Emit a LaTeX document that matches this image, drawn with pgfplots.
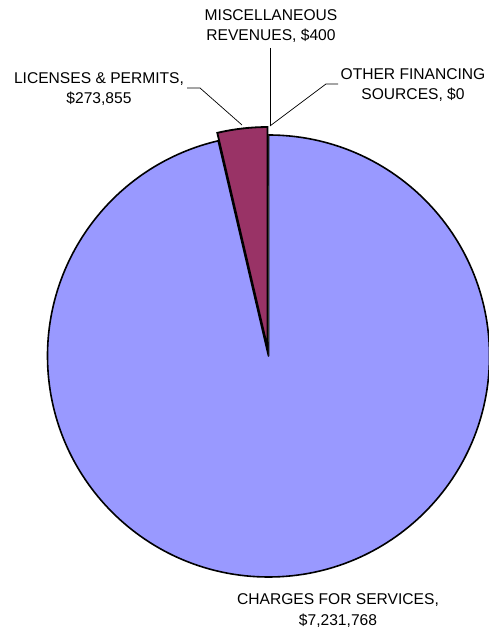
\documentclass[border=0pt]{standalone}
\usepackage{pgfplots}
\pgfplotsset{compat=1.18}
\usepackage{xfp}
\usepackage{fontspec}
\setmainfont{Liberation Sans}
\definecolor{charges}{HTML}{9999FF}
\definecolor{licenses}{HTML}{993366}
\definecolor{miscc}{HTML}{FFFFCC}
\definecolor{otherc}{HTML}{CCFFFF}
% slice values (dollars)
\def\vCharges{7231768}
\def\vLicenses{273855}
\def\vMisc{400}
\def\vOther{0}
\edef\vTotal{\fpeval{\vCharges+\vLicenses+\vMisc+\vOther}}
\edef\aOne{\fpeval{round(90-360*\vCharges/\vTotal,4)}}
\edef\aTwo{\fpeval{round(\aOne-360*\vLicenses/\vTotal,4)}}
\edef\aThree{\fpeval{round(\aTwo-360*\vMisc/\vTotal,4)}}
\edef\aMidTwo{\fpeval{round((\aOne+\aTwo)/2,4)}}
\newcommand{\lbl}{\fontsize{15.6}{20}\selectfont}
\begin{document}
\begin{tikzpicture}
\begin{axis}[name=ax, width=489pt, height=631pt, scale only axis,
  xmin=0, xmax=489, ymin=0, ymax=631, hide axis, clip=false]
% charges for services
\fill[charges, draw=black, line width=1.6pt, line join=round]
  (268.5,275) -- ++(90:221pt) arc[start angle=90, end angle=\aOne, radius=221pt] -- cycle;
% licenses & permits (exploded)
\fill[licenses, draw=black, line width=1.8pt]
  (268.5,275) ++(\aMidTwo:8pt) -- ++(\aOne:221pt) arc[start angle=\aOne, end angle=\aTwo, radius=221pt] -- cycle;
% miscellaneous revenues
\fill[miscc, draw=black, line width=0.4pt]
  (268.5,275) -- ++(\aTwo:221pt) arc[start angle=\aTwo, end angle=\aThree, radius=221pt] -- cycle;
% leader lines
\draw[black, line width=0.7pt] (187,543) -- (200,543) -- (242,506);
\draw[black, line width=0.7pt] (270,583) -- (270,505);
\draw[black, line width=0.7pt] (270,505) -- (326,547) -- (338,547);
% labels
\node[anchor=base, inner sep=0, font=\lbl] at (271,610) {MISCELLANEOUS};
\node[anchor=base, inner sep=0, font=\lbl] at (271,590) {REVENUES, \$400};
\node[anchor=base, inner sep=0, font=\lbl] at (413,551) {OTHER FINANCING};
\node[anchor=base, inner sep=0, font=\lbl] at (413,531) {SOURCES, \$0};
\node[anchor=base, inner sep=0, font=\lbl] at (99,547.5) {LICENSES \& PERMITS,};
\node[anchor=base, inner sep=0, font=\lbl] at (99,527) {\$273,855};
\node[anchor=base, inner sep=0, font=\lbl] at (338,26) {CHARGES FOR SERVICES,};
\node[anchor=base, inner sep=0, font=\lbl] at (338,5.5) {\$7,231,768};
\end{axis}
\pgfresetboundingbox
\useasboundingbox (ax.south west) rectangle (ax.north east);
\end{tikzpicture}
\end{document}
